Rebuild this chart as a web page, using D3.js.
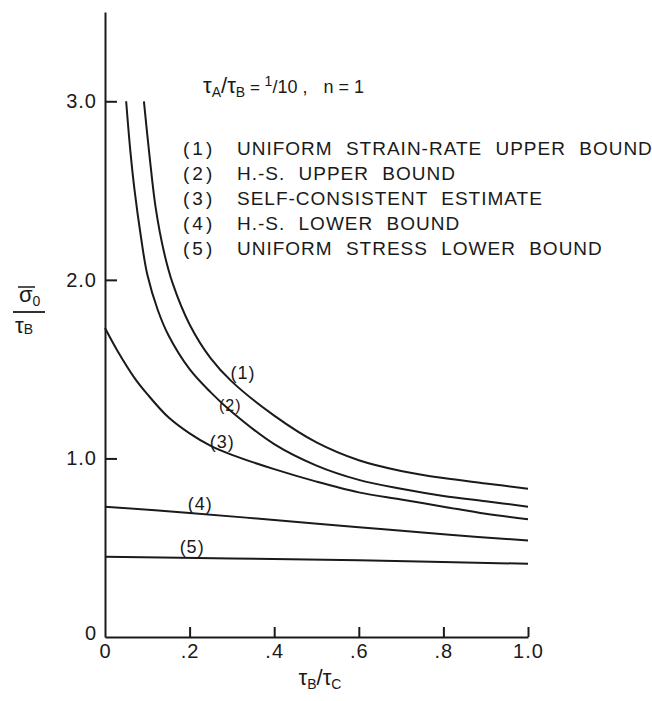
<!DOCTYPE html>
<html>
<head>
<meta charset="utf-8">
<script src="https://cdn.jsdelivr.net/npm/d3@7"></script>
<style>
  body { margin: 0; background: #fff; }
  text { font-family: "Liberation Sans", Arial, sans-serif; fill: #1a1a1a; }
</style>
</head>
<body>
<div class="chart"></div>
<script>
// values: x = tauB/tauC, y = sigma0/tauB
var curve1 = [[0.092, 3.0], [0.105, 2.7], [0.12, 2.4], [0.14, 2.15], [0.16, 1.98], [0.2, 1.75],
  [0.25, 1.56], [0.3, 1.43], [0.4, 1.24], [0.5, 1.09], [0.6, 0.99], [0.7, 0.93], [0.8, 0.89],
  [0.9, 0.86], [1.0, 0.83]];
var curve2 = [[0.05, 3.0], [0.06, 2.72], [0.07, 2.5], [0.085, 2.24], [0.1, 2.03], [0.125, 1.83],
  [0.15, 1.69], [0.2, 1.5], [0.25, 1.37], [0.3, 1.26], [0.4, 1.08], [0.5, 0.96], [0.6, 0.88],
  [0.7, 0.83], [0.8, 0.79], [0.9, 0.76], [1.0, 0.73]];
var curve3 = [[0, 1.73], [0.03, 1.6], [0.07, 1.45], [0.1, 1.36], [0.15, 1.23], [0.2, 1.14],
  [0.25, 1.07], [0.3, 1.02], [0.4, 0.94], [0.5, 0.87], [0.6, 0.81], [0.7, 0.77], [0.8, 0.73],
  [0.9, 0.69], [1.0, 0.66]];
var curve4 = [[0, 0.73], [0.2, 0.695], [0.4, 0.655], [0.6, 0.615], [0.8, 0.575], [1.0, 0.54]];
var curve5 = [[0, 0.45], [0.3, 0.44], [0.6, 0.43], [1.0, 0.41]];

var curveTags = ['(1)', '(2)', '(3)', '(4)', '(5)'];
var tagAnchors = [[0.326, 1.447], [0.296, 1.268], [0.277, 1.061], [0.225, 0.71], [0.206, 0.47]];

var legendLabels = [
  'UNIFORM STRAIN-RATE UPPER BOUND',
  'H.-S. UPPER BOUND',
  'SELF-CONSISTENT ESTIMATE',
  'H.-S. LOWER BOUND',
  'UNIFORM STRESS LOWER BOUND'
];

var xTicks = [0, 0.2, 0.4, 0.6, 0.8, 1.0];
var xTickLabels = ['0', '.2', '.4', '.6', '.8', '1.0'];
var yTicks = [0, 1, 2, 3];
var yTickLabels = ['0', '1.0', '2.0', '3.0'];

var width = 652, height = 701;

var svg = d3.select('.chart')
  .append('svg')
    .attr('width', width)
    .attr('height', height);

svg.append('rect').attr('width', width).attr('height', height).attr('fill', '#fff');

var x = d3.scaleLinear().domain([0, 1]).range([105, 528]);
var y = d3.scaleLinear().domain([0, 3.5]).range([637, 12]);

// axes
var xAxis = svg.append('g')
  .attr('transform', `translate(0, ${y(0)})`)
  .call(d3.axisBottom(x)
    .tickValues(xTicks)
    .tickSize(-10)
    .tickSizeOuter(0)
    .tickPadding(7)
    .tickFormat((d, i) => xTickLabels[i]));

var yAxis = svg.append('g')
  .attr('transform', `translate(${x(0)}, 0)`)
  .call(d3.axisLeft(y)
    .tickValues(yTicks)
    .tickSize(-12)
    .tickSizeOuter(0)
    .tickPadding(8)
    .tickFormat((d, i) => yTickLabels[i]));

[xAxis, yAxis].forEach(function(a) {
  a.selectAll('path, line').attr('stroke', '#1a1a1a').attr('stroke-width', 2);
  a.selectAll('text')
    .style('font-family', '"Liberation Sans", Arial, sans-serif')
    .style('font-size', '20px')
    .style('letter-spacing', '1px')
    .attr('fill', '#1a1a1a');
});
yAxis.selectAll('.tick').filter(d => d === 0).select('line').remove();
xAxis.selectAll('.tick').filter(d => d === 0).select('line').remove();
yAxis.selectAll('.tick').filter(d => d === 0).select('text').attr('dy', '0.1em');

// curves
var line = d3.line()
  .x(d => x(d[0]))
  .y(d => y(d[1]))
  .curve(d3.curveCatmullRom.alpha(0.5));

svg.selectAll('path.curve')
  .data([curve1, curve2, curve3, curve4, curve5])
  .enter()
  .append('path')
    .attr('class', 'curve')
    .attr('d', line)
    .attr('fill', 'none')
    .attr('stroke', '#1a1a1a')
    .attr('stroke-width', 2);

svg.selectAll('text.tag')
  .data(curveTags)
  .enter()
  .append('text')
    .attr('class', 'tag')
    .attr('x', (d, i) => x(tagAnchors[i][0]))
    .attr('y', (d, i) => y(tagAnchors[i][1]))
    .attr('text-anchor', 'middle')
    .style('font-size', (d, i) => i === 1 ? '16px' : '18px')
    .style('letter-spacing', '1px')
    .text(d => d);

// legend
var legend = svg.append('g');
legendLabels.forEach(function(label, i) {
  var by = 155 + i * 25;
  legend.append('text')
    .attr('x', 183)
    .attr('y', by)
    .style('font-size', '19px')
    .style('letter-spacing', '3px')
    .text(`(${i + 1})`);
  legend.append('text')
    .attr('x', 237)
    .attr('y', by)
    .style('font-size', '19px')
    .style('word-spacing', '7px')
    .style('letter-spacing', '1px')
    .text(label);
});

// parameter title
var title = svg.append('text')
  .attr('x', 203)
  .attr('y', 93)
  .style('font-size', '22px');
title.append('tspan').text('τ');
title.append('tspan').attr('dy', 4).style('font-size', '14px').text('A');
title.append('tspan').attr('dy', -4).text('/τ');
title.append('tspan').attr('dy', 4).style('font-size', '14px').text('B');
title.append('tspan').attr('dy', -4).style('font-size', '17px').text(' = ');
title.append('tspan').attr('dy', -7).style('font-size', '14px').text('1');
title.append('tspan').attr('dy', 7).style('font-size', '18px').text('/10 ,');
title.append('tspan').style('font-size', '18px').attr('dx', 16).text('n = 1');

// axis titles
var xt = svg.append('text')
  .attr('x', 320)
  .attr('y', 685)
  .attr('text-anchor', 'middle')
  .style('font-size', '22px');
xt.append('tspan').text('τ');
xt.append('tspan').attr('dy', 4).style('font-size', '14px').text('B');
xt.append('tspan').attr('dy', -4).text('/τ');
xt.append('tspan').attr('dy', 4).style('font-size', '14px').text('C');

var yt = svg.append('g');
var num = yt.append('text').attr('x', 19).attr('y', 302).style('font-size', '22px');
num.append('tspan').text('σ');
num.append('tspan').attr('dy', 4).style('font-size', '14px').text('0');
yt.append('line').attr('x1', 18).attr('x2', 35).attr('y1', 287).attr('y2', 287)
  .attr('stroke', '#1a1a1a').attr('stroke-width', 1.5);
yt.append('line').attr('x1', 13).attr('x2', 45).attr('y1', 312).attr('y2', 312)
  .attr('stroke', '#1a1a1a').attr('stroke-width', 1.8);
var den = yt.append('text').attr('x', 15).attr('y', 333).style('font-size', '22px');
den.append('tspan').text('τ');
den.append('tspan').attr('dy', 1).style('font-size', '14px').text('B');
</script>
</body>
</html>
